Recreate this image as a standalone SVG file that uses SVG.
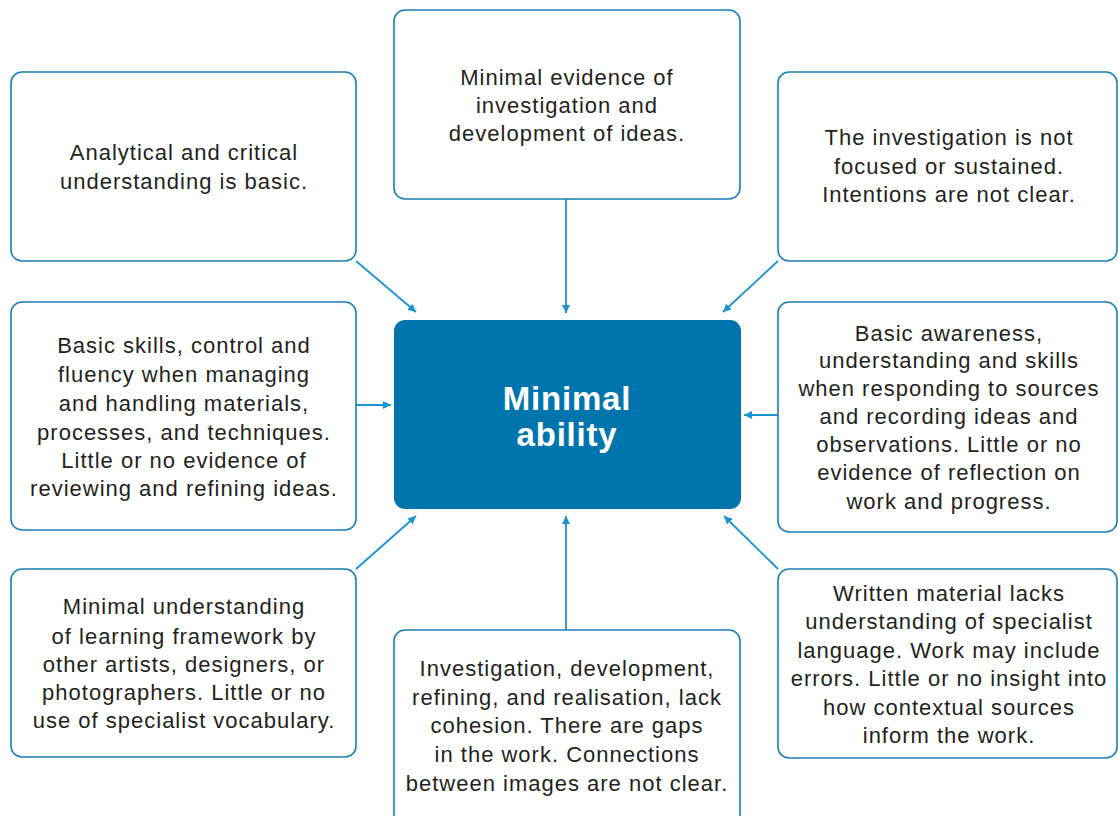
<svg xmlns="http://www.w3.org/2000/svg" width="1118" height="816" viewBox="0 0 1118 816">
<defs>
<style>
.box{fill:#fff;stroke:#1a7fb8;stroke-width:1.6}
.t{font-family:"Liberation Sans",Arial,sans-serif;font-size:22px;letter-spacing:1px;fill:#231f20;text-anchor:middle}
.c{font-family:"Liberation Sans",Arial,sans-serif;font-size:33px;letter-spacing:0.8px;font-weight:bold;fill:#fff;text-anchor:middle}
.ln{stroke:#1b93d1;stroke-width:1.8;fill:none;marker-end:url(#ah)}
</style>
<marker id="ah" viewBox="0 0 10 10" refX="10" refY="5" markerWidth="8" markerHeight="8" markerUnits="userSpaceOnUse" orient="auto"><path d="M0,0 L10,5 L0,10 z" fill="#1b93d1"/></marker>
</defs>
<rect width="1118" height="816" fill="#fff"/>
<g id="connectors">
<line class="ln" x1="566" y1="199" x2="566" y2="313"/>
<line class="ln" x1="356" y1="261" x2="416" y2="312"/>
<line class="ln" x1="778" y1="261" x2="723" y2="312"/>
<line class="ln" x1="356" y1="405" x2="391" y2="405"/>
<line class="ln" x1="778" y1="415" x2="744" y2="415"/>
<line class="ln" x1="356" y1="569" x2="416" y2="516"/>
<line class="ln" x1="566" y1="630" x2="566" y2="516"/>
<line class="ln" x1="778" y1="569" x2="724" y2="516"/>
</g>
<g id="center">
<rect x="394" y="320" width="347" height="189" rx="11" fill="#0075ad"/>
<text class="c" x="567" y="410">Minimal</text>
<text class="c" x="567" y="446">ability</text>
</g>
<g id="top">
<rect class="box" x="394" y="10" width="346" height="189" rx="11"/>
<text class="t" x="567" y="85">Minimal evidence of</text>
<text class="t" x="567" y="113">investigation and</text>
<text class="t" x="567" y="141">development of ideas.</text>
</g>
<g id="top-left">
<rect class="box" x="11" y="72" width="345" height="189" rx="11"/>
<text class="t" x="184" y="160">Analytical and critical</text>
<text class="t" x="184" y="189">understanding is basic.</text>
</g>
<g id="top-right">
<rect class="box" x="778" y="72" width="339" height="189" rx="11"/>
<text class="t" x="949" y="145">The investigation is not</text>
<text class="t" x="949" y="174">focused or sustained.</text>
<text class="t" x="949" y="202">Intentions are not clear.</text>
</g>
<g id="mid-left">
<rect class="box" x="11" y="302" width="345" height="228" rx="11"/>
<text class="t" x="184" y="353">Basic skills, control and</text>
<text class="t" x="184" y="382">fluency when managing</text>
<text class="t" x="184" y="411">and handling materials,</text>
<text class="t" x="184" y="440">processes, and techniques.</text>
<text class="t" x="184" y="468">Little or no evidence of</text>
<text class="t" x="184" y="496">reviewing and refining ideas.</text>
</g>
<g id="mid-right">
<rect class="box" x="778" y="302" width="339" height="230" rx="11"/>
<text class="t" x="949" y="341">Basic awareness,</text>
<text class="t" x="949" y="368">understanding and skills</text>
<text class="t" x="949" y="396">when responding to sources</text>
<text class="t" x="949" y="424">and recording ideas and</text>
<text class="t" x="949" y="452">observations. Little or no</text>
<text class="t" x="949" y="480">evidence of reflection on</text>
<text class="t" x="949" y="509">work and progress.</text>
</g>
<g id="bottom-left">
<rect class="box" x="11" y="569" width="345" height="188" rx="11"/>
<text class="t" x="184" y="614">Minimal understanding</text>
<text class="t" x="184" y="644">of learning framework by</text>
<text class="t" x="184" y="672">other artists, designers, or</text>
<text class="t" x="184" y="700">photographers. Little or no</text>
<text class="t" x="184" y="728">use of specialist vocabulary.</text>
</g>
<g id="bottom">
<rect class="box" x="394" y="630" width="346" height="200" rx="11"/>
<text class="t" x="567" y="676">Investigation, development,</text>
<text class="t" x="567" y="705">refining, and realisation, lack</text>
<text class="t" x="567" y="733">cohesion. There are gaps</text>
<text class="t" x="567" y="762">in the work. Connections</text>
<text class="t" x="567" y="791">between images are not clear.</text>
</g>
<g id="bottom-right">
<rect class="box" x="778" y="569" width="339" height="189" rx="11"/>
<text class="t" x="949" y="601">Written material lacks</text>
<text class="t" x="949" y="629">understanding of specialist</text>
<text class="t" x="949" y="658">language. Work may include</text>
<text class="t" x="949" y="686">errors. Little or no insight into</text>
<text class="t" x="949" y="715">how contextual sources</text>
<text class="t" x="949" y="743">inform the work.</text>
</g>
</svg>
